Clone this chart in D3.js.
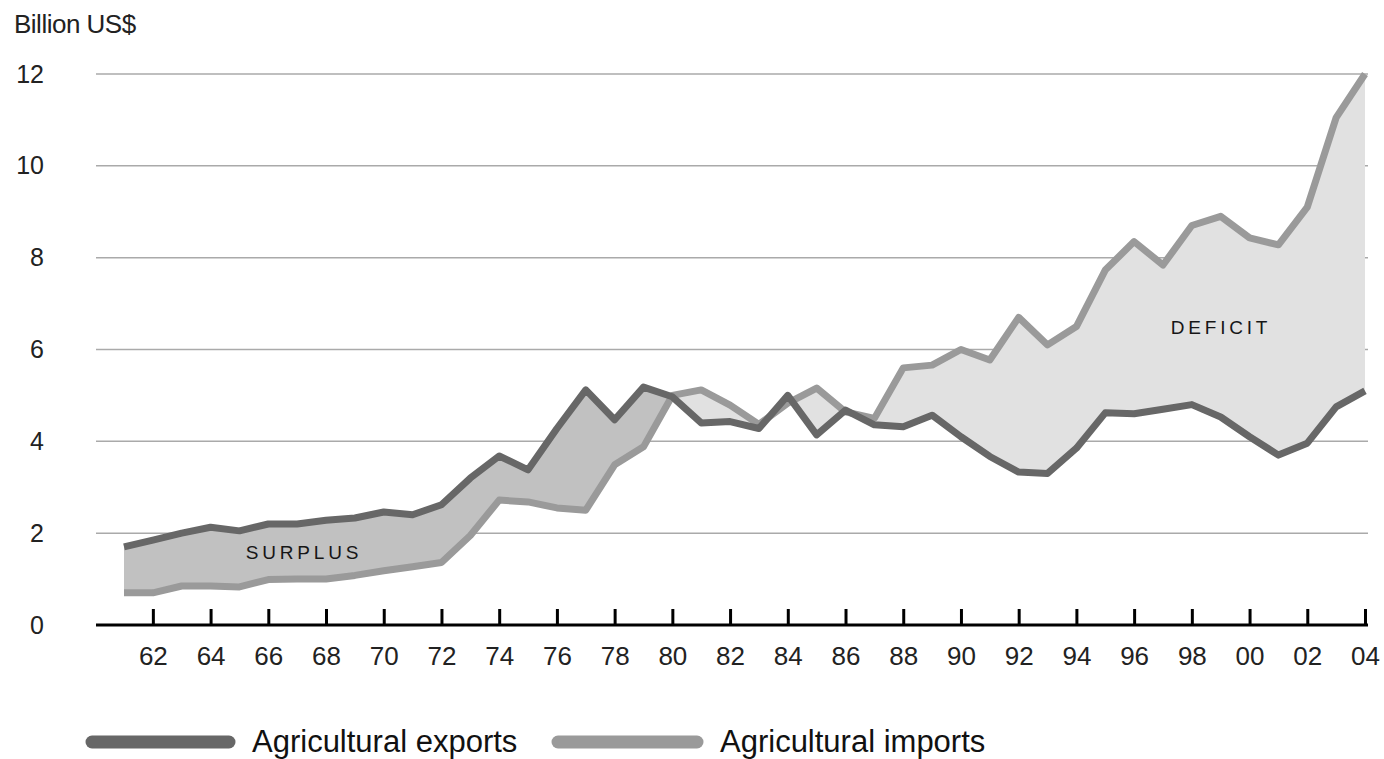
<!DOCTYPE html>
<html>
<head>
<meta charset="utf-8">
<script src="https://cdn.jsdelivr.net/npm/d3@7"></script>
<style>
  body { margin: 0; background: #fff; }
  svg { display: block; font-family: "Liberation Sans", Arial, sans-serif; }
</style>
</head>
<body>
<svg id="chart" width="1384" height="759"></svg>
<script>
// years 1961 - 2004
const years = d3.range(1961, 2005);
const exportsBn = [1.7, 1.85, 2.0, 2.13, 2.05, 2.2, 2.2, 2.28, 2.33, 2.46, 2.4, 2.62, 3.2, 3.68, 3.38,
  4.28, 5.12, 4.47, 5.18, 4.97, 4.4, 4.43, 4.28, 5.0, 4.14, 4.68, 4.36, 4.32, 4.57, 4.1,
  3.67, 3.33, 3.3, 3.85, 4.62, 4.6, 4.7, 4.8, 4.53, 4.1, 3.7, 3.96, 4.75, 5.1];
const importsBn = [0.7, 0.7, 0.85, 0.85, 0.83, 0.99, 1.0, 1.0, 1.08, 1.18, 1.27, 1.36, 1.95, 2.72, 2.68,
  2.55, 2.5, 3.49, 3.88, 5.0, 5.12, 4.79, 4.37, 4.83, 5.16, 4.64, 4.5, 5.6, 5.66, 6.0,
  5.77, 6.7, 6.1, 6.5, 7.73, 8.35, 7.84, 8.7, 8.9, 8.43, 8.28, 9.1, 11.05, 12.0];
const yTicks = [0, 2, 4, 6, 8, 10, 12];
const xTicks = d3.range(1962, 2005, 2);
const seriesNames = ["Agricultural exports", "Agricultural imports"];

const data = years.map((yr, i) => ({ year: yr, exp: exportsBn[i], imp: importsBn[i] }));

const svg = d3.select("#chart");
const left = 96, right = 1368, bottom = 625;

const x = d3.scaleLinear().domain([1961, 2004]).range([124, 1365]);
const y = d3.scaleLinear().domain([0, 12]).range([bottom, 74]);

// gridlines
svg.append("g").selectAll("line")
  .data(yTicks.filter(d => d > 0))
  .join("line")
  .attr("x1", left).attr("x2", right)
  .attr("y1", d => y(d)).attr("y2", d => y(d))
  .attr("stroke", "#aaa").attr("stroke-width", 1.5);

// clip regions above / below the imports line
const defs = svg.append("defs");
defs.append("clipPath").attr("id", "clip-above")
  .append("path")
  .attr("d", d3.area().x(d => x(d.year)).y0(0).y1(d => y(d.imp))(data));
defs.append("clipPath").attr("id", "clip-below")
  .append("path")
  .attr("d", d3.area().x(d => x(d.year)).y0(bottom).y1(d => y(d.imp))(data));

const between = d3.area()
  .x(d => x(d.year))
  .y0(d => y(d.imp))
  .y1(d => y(d.exp));

svg.append("path").datum(data)
  .attr("clip-path", "url(#clip-above)")
  .attr("fill", "#c1c1c1")
  .attr("d", between);
svg.append("path").datum(data)
  .attr("clip-path", "url(#clip-below)")
  .attr("fill", "#e1e1e1")
  .attr("d", between);

// lines
svg.append("path").datum(data)
  .attr("fill", "none").attr("stroke", "#9a9a9a").attr("stroke-width", 7)
  .attr("stroke-linejoin", "round")
  .attr("d", d3.line().x(d => x(d.year)).y(d => y(d.imp)));
svg.append("path").datum(data)
  .attr("fill", "none").attr("stroke", "#676767").attr("stroke-width", 7)
  .attr("stroke-linejoin", "round")
  .attr("d", d3.line().x(d => x(d.year)).y(d => y(d.exp)));

// x axis
svg.append("line")
  .attr("x1", left).attr("x2", right)
  .attr("y1", bottom).attr("y2", bottom)
  .attr("stroke", "#000").attr("stroke-width", 3);

const xAxis = svg.append("g")
  .attr("transform", `translate(0,${bottom})`)
  .call(d3.axisBottom(x)
    .tickValues(xTicks)
    .tickSizeInner(-16).tickSizeOuter(0)
    .tickPadding(21.5)
    .tickFormat(d => String(d % 100).padStart(2, "0")));
xAxis.select(".domain").remove();
xAxis.selectAll(".tick line").attr("stroke", "#000").attr("stroke-width", 3);
xAxis.selectAll("text").attr("font-size", 26).attr("fill", "#222")
  .attr("font-family", "Liberation Sans, Arial, sans-serif");

// y axis labels
const yAxis = svg.append("g")
  .attr("transform", "translate(44,0)")
  .call(d3.axisLeft(y).tickValues(yTicks).tickSize(0).tickPadding(0));
yAxis.select(".domain").remove();
yAxis.selectAll("text").attr("font-size", 25).attr("fill", "#222")
  .attr("font-family", "Liberation Sans, Arial, sans-serif");

svg.append("text")
  .attr("x", 14).attr("y", 33)
  .attr("font-size", 26).attr("fill", "#222")
  .attr("letter-spacing", -0.5)
  .text("Billion US$");

// annotations
svg.append("text")
  .attr("x", 304).attr("y", 559)
  .attr("text-anchor", "middle")
  .attr("font-size", 19).attr("letter-spacing", 3.8).attr("fill", "#161616")
  .text("SURPLUS");
svg.append("text")
  .attr("x", 1221).attr("y", 334)
  .attr("text-anchor", "middle")
  .attr("font-size", 19).attr("letter-spacing", 3.8).attr("fill", "#161616")
  .text("DEFICIT");

// legend
const legend = [
  { name: seriesNames[0], color: "#676767", x1: 92, x2: 229, tx: 252 },
  { name: seriesNames[1], color: "#9a9a9a", x1: 558, x2: 697, tx: 720 }
];
const lg = svg.append("g").selectAll("g").data(legend).join("g");
lg.append("line")
  .attr("x1", d => d.x1).attr("x2", d => d.x2)
  .attr("y1", 742).attr("y2", 742)
  .attr("stroke", d => d.color).attr("stroke-width", 13)
  .attr("stroke-linecap", "round");
lg.append("text")
  .attr("x", d => d.tx).attr("y", 752)
  .attr("font-size", 31).attr("fill", "#111")
  .text(d => d.name);
</script>
</body>
</html>
